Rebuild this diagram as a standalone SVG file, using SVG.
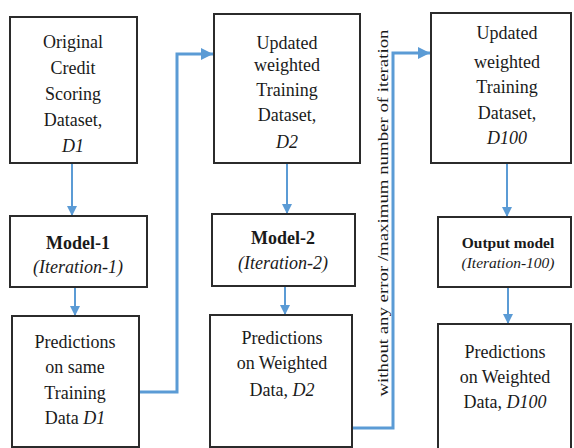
<svg xmlns="http://www.w3.org/2000/svg" width="574" height="448" viewBox="0 0 574 448">
<style>
.box{fill:#fff;stroke:#2b2b2b;stroke-width:2}
text{font-family:'Liberation Serif','Times New Roman','DejaVu Serif',serif;font-size:18px;fill:#1a1a1a;text-anchor:middle}
.b{font-weight:bold}
.i{font-style:italic}
.s{font-size:15.5px}
.v{font-size:15px}
.c{fill:none;stroke:#5b9bd5;stroke-width:2}
.c3{fill:none;stroke:#5b9bd5;stroke-width:3}
</style>
<defs>
<marker id="ah" viewBox="0 0 10 10" refX="10" refY="5" markerWidth="5" markerHeight="5" orient="auto" markerUnits="strokeWidth">
<path d="M0,0 L10,5 L0,10 Z" fill="#5b9bd5"/>
</marker>
<marker id="ah3" viewBox="0 0 10 10" refX="10" refY="5" markerWidth="4" markerHeight="4" orient="auto" markerUnits="strokeWidth">
<path d="M0,0 L10,5 L0,10 Z" fill="#5b9bd5"/>
</marker>
</defs>
<rect width="574" height="448" fill="#fff"/>
<g id="connectors">
<path class="c" d="M72,163 V216" marker-end="url(#ah)"/>
<path class="c" d="M75,287 V316" marker-end="url(#ah)"/>
<path class="c" d="M287,163 V214" marker-end="url(#ah)"/>
<path class="c" d="M285,286 V315" marker-end="url(#ah)"/>
<path class="c" d="M507,163 V217" marker-end="url(#ah)"/>
<path class="c" d="M508,287 V324" marker-end="url(#ah)"/>
<path class="c3" d="M139,392 H177 V54 H213" marker-end="url(#ah3)"/>
<path class="c3" d="M352,428 H393 V53 H430" marker-end="url(#ah3)"/>
<text class="v" transform="translate(388,213) rotate(-90)" textLength="367" lengthAdjust="spacingAndGlyphs">without any error /maximum number of iteration</text>
</g>
<g id="d1">
<rect class="box" x="10" y="17" width="127" height="146"/>
<text x="73" y="48">Original</text>
<text x="73" y="74">Credit</text>
<text x="73" y="100">Scoring</text>
<text x="73" y="126">Dataset,</text>
<text class="i" x="73" y="152">D1</text>
</g>
<g id="model1">
<rect class="box" x="10" y="216" width="137" height="71"/>
<text class="b" x="78" y="249">Model-1</text>
<text class="i" x="78" y="273">(Iteration-1)</text>
</g>
<g id="pred1">
<rect class="box" x="12" y="316" width="127" height="131"/>
<text x="75" y="348">Predictions</text>
<text x="75" y="373">on same</text>
<text x="75" y="399">Training</text>
<text x="75" y="424">Data <tspan class="i">D1</tspan></text>
</g>
<g id="d2">
<rect class="box" x="214" y="14" width="146" height="149"/>
<text x="287" y="49">Updated</text>
<text x="287" y="71">weighted</text>
<text x="287" y="96">Training</text>
<text x="287" y="121">Dataset,</text>
<text class="i" x="287" y="148">D2</text>
</g>
<g id="model2">
<rect class="box" x="212" y="214" width="143" height="72"/>
<text class="b" x="283" y="244">Model-2</text>
<text class="i" x="283" y="269">(Iteration-2)</text>
</g>
<g id="pred2">
<rect class="box" x="210" y="315" width="142" height="132"/>
<text x="282" y="344">Predictions</text>
<text x="282" y="369">on Weighted</text>
<text x="282" y="396">Data, <tspan class="i">D2</tspan></text>
</g>
<g id="d100">
<rect class="box" x="431" y="13" width="140" height="150"/>
<text x="507" y="39">Updated</text>
<text x="507" y="68">weighted</text>
<text x="507" y="93">Training</text>
<text x="507" y="119">Dataset,</text>
<text class="i" x="507" y="144">D100</text>
</g>
<g id="output">
<rect class="box" x="438" y="217" width="133" height="70"/>
<text class="b s" x="508" y="248">Output model</text>
<text class="i s" x="508" y="268">(Iteration-100)</text>
</g>
<g id="pred3">
<rect class="box" x="438" y="324" width="133" height="130"/>
<text x="505" y="358">Predictions</text>
<text x="505" y="383">on Weighted</text>
<text x="505" y="408">Data, <tspan class="i">D100</tspan></text>
</g>
</svg>
